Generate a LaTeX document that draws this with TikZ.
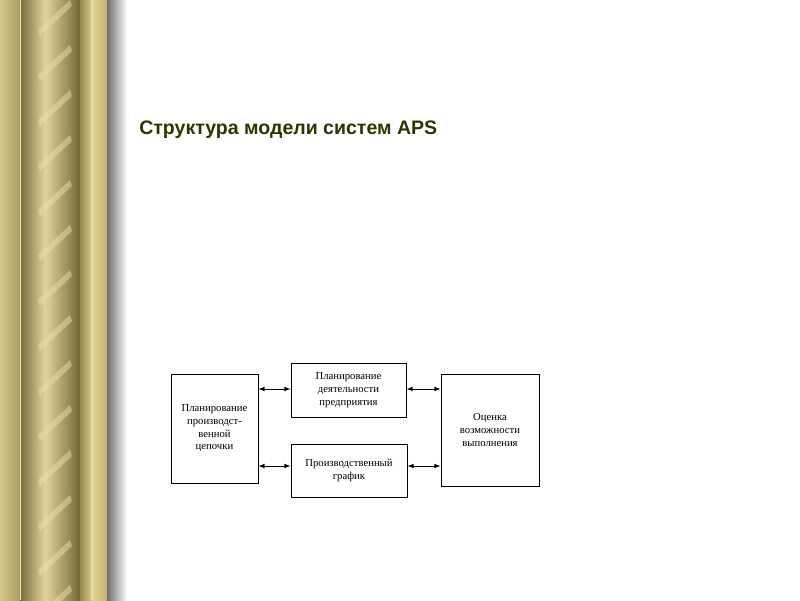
\documentclass[tikz,border=0pt]{standalone}
\usepackage{fontspec}
\setmainfont{Liberation Serif}
\newfontfamily\titlefont{Liberation Sans}
\definecolor{g1}{RGB}{215,200,135}
\definecolor{g2}{RGB}{170,155,95}
\definecolor{g3}{RGB}{120,110,60}
\definecolor{g4}{RGB}{225,212,150}
\definecolor{g5}{RGB}{115,105,55}
\definecolor{g6}{RGB}{150,138,80}
\definecolor{g7}{RGB}{195,180,115}
\definecolor{gs}{RGB}{235,222,165}
\definecolor{gl}{RGB}{235,225,170}
\definecolor{sh}{RGB}{110,110,110}
\definecolor{tt}{RGB}{51,51,0}
\begin{document}
\begin{tikzpicture}[x=0.025cm,y=-0.025cm,
  blk/.style={draw,line width=0.7pt,inner sep=0pt,align=center,font=\fontsize{7.6}{9}\selectfont},
  arr/.style={<->,>=latex,line width=0.5pt}]
\useasboundingbox (0,0) rectangle (800,600);
\fill[white] (0,0) rectangle (800,600);
% column
\shade[left color=g1,right color=g2] (0,0) rectangle (20,600);
\shade[left color=g3,right color=g4] (20,0) rectangle (45,600);
\shade[left color=g4,right color=g5] (45,0) rectangle (80,600);
\shade[left color=g6,right color=g1] (80,0) rectangle (92,600);
\shade[left color=g4,right color=g7] (92,0) rectangle (107,600);
\foreach \y in {0,45,...,600}
  \fill[gs,opacity=0.5] (38,\y+30) -- (70,\y) -- (72,\y+6) -- (40,\y+36) -- cycle;
\draw[gl,line width=0.4pt] (20,0) -- (20,600) (91,0) -- (91,600);
\shade[left color=sh,right color=white] (107,0) rectangle (127,600);
% title
\node[anchor=west,font=\titlefont\bfseries\fontsize{13.9}{16}\selectfont,text=tt,inner sep=0pt] (t) at (139,130) {Структура модели систем APS};
% boxes
\node[blk,minimum width=87*0.025cm,minimum height=109*0.025cm] (a) at (214.5,428.5) {Планирование\\производст-\\венной\\цепочки};
\node[blk,minimum width=115*0.025cm,minimum height=54*0.025cm] (b) at (348.5,390) {Планирование\\деятельности\\предприятия};
\node[blk,minimum width=116*0.025cm,minimum height=53*0.025cm] (c) at (349,470.5) {Производственный\\график};
\node[blk,minimum width=98*0.025cm,minimum height=112*0.025cm] (d) at (490,430) {Оценка\\возможности\\выполнения};
\draw[arr] (a.east|-0,389) -- (b.west|-0,389);
\draw[arr] (b.east|-0,389) -- (d.west|-0,389);
\draw[arr] (a.east|-0,466) -- (c.west|-0,466);
\draw[arr] (c.east|-0,466) -- (d.west|-0,466);
\end{tikzpicture}
\end{document}
